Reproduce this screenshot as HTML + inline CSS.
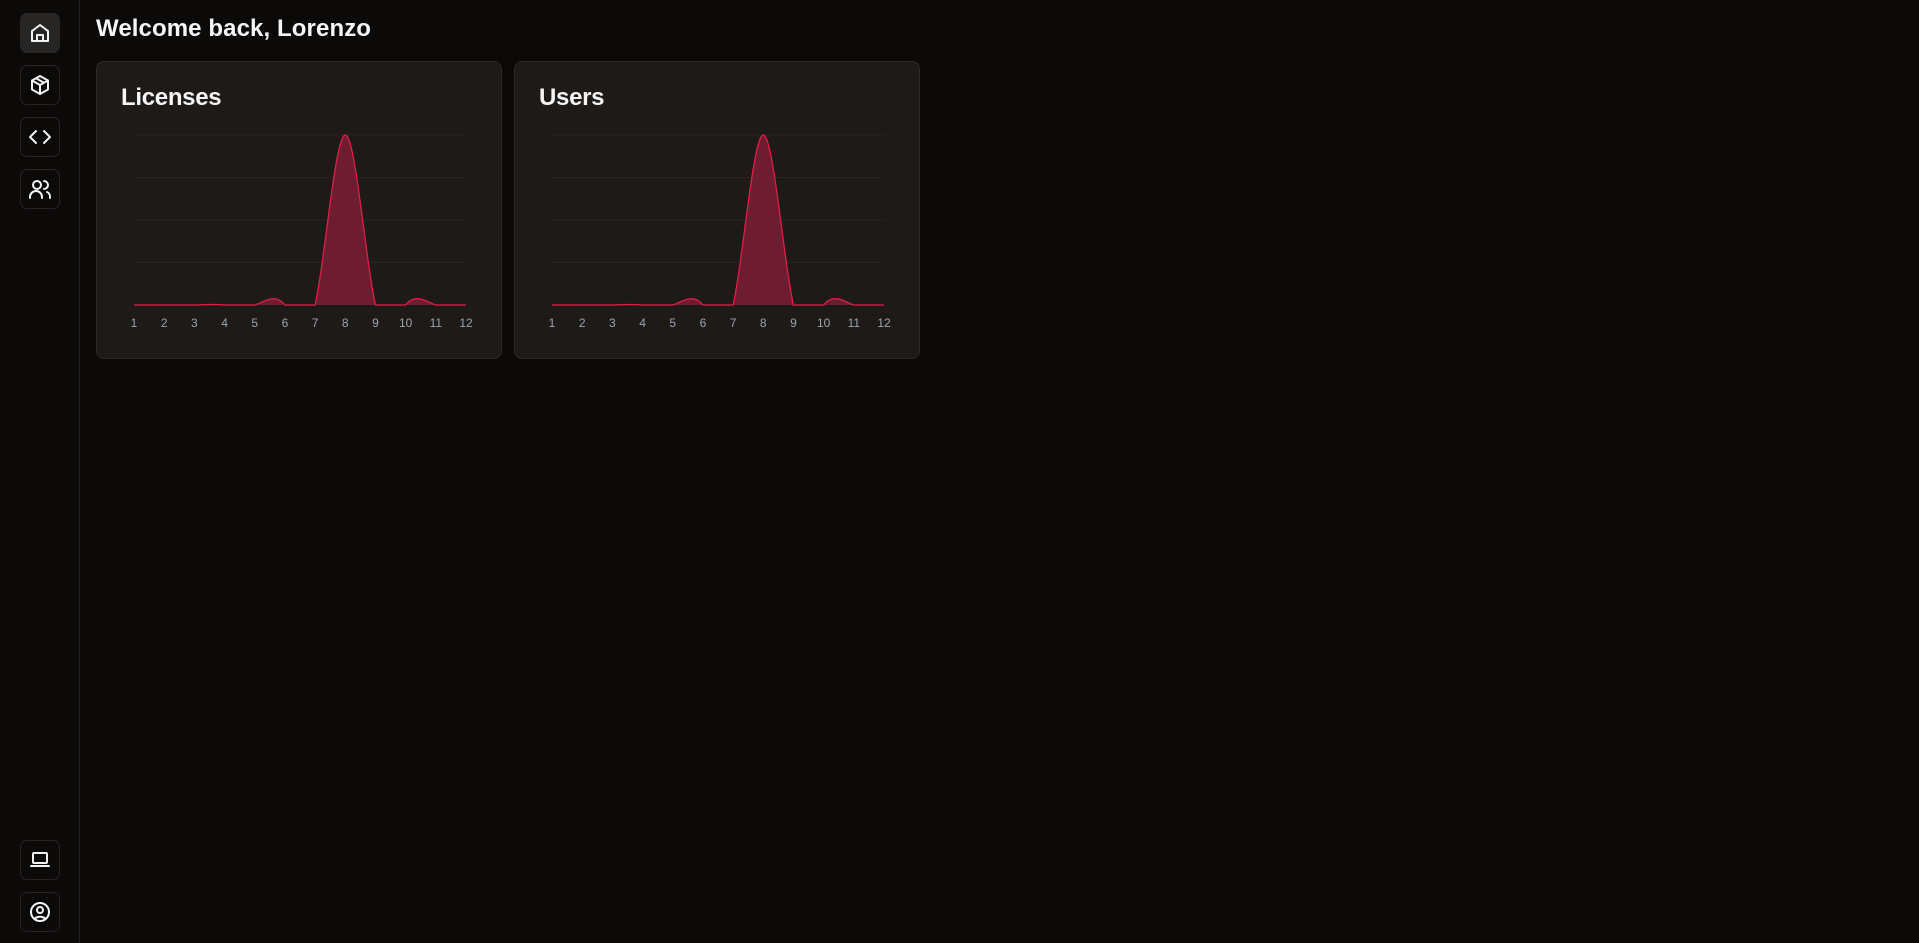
<!DOCTYPE html>
<html><head><meta charset="utf-8"><style>
html,body{margin:0;padding:0;background:#0b0a09;width:1919px;height:943px;overflow:hidden;font-family:"Liberation Sans",sans-serif;}
.sidebar{position:absolute;left:0;top:0;width:79px;height:943px;border-right:1px solid #222;}
.btn{position:absolute;left:20px;width:38px;height:38px;border:1px solid #262423;border-radius:7px;display:flex;align-items:center;justify-content:center;}
.btn.active{background:#272625;border-color:#272625;}
.btn svg{width:24px;height:24px;fill:none;stroke:#f2f2f2;stroke-width:2;stroke-linecap:round;stroke-linejoin:round;}
h1{position:absolute;left:96px;top:15px;margin:0;font-size:24px;font-weight:700;color:#f5f5f5;letter-spacing:0.1px;}
.card{position:absolute;top:61px;width:404px;height:296px;background:#1d1a18;border:1px solid #2c2927;border-radius:8px;}
.card h2{position:absolute;left:24px;top:22px;margin:0;font-size:24px;font-weight:700;color:#f5f5f5;letter-spacing:-0.3px;}
.card svg{position:absolute;left:0;top:0;}
</style></head><body>
<div class="sidebar">
 <div class="btn active" style="top:13px"><svg viewBox="0 0 24 24"><path d="M4 10l8-6 8 6v10H4z"/><path d="M9 20v-6h6v6"/></svg></div>
 <div class="btn" style="top:65px"><svg viewBox="0 0 24 24"><path d="M12 3l8 4.5v9L12 21l-8-4.5v-9z"/><path d="M4 7.5l8 4.5 8-4.5M12 12v9M8 5.3l8 4.5"/></svg></div>
 <div class="btn" style="top:117px"><svg viewBox="0 0 24 24"><path d="M8 6l-6 6 6 6M16 6l6 6-6 6"/></svg></div>
 <div class="btn" style="top:169px"><svg viewBox="0 0 24 24"><circle cx="9" cy="8" r="4"/><path d="M2 21v-1a6 6 0 0 1 12 0v1M16 4a4 4 0 0 1 0 8M19 15a5 5 0 0 1 3 5v1"/></svg></div>
 <div class="btn" style="top:840px"><svg viewBox="0 0 24 24"><rect x="5" y="5" width="14" height="10" rx="1"/><path d="M3 18h18"/></svg></div>
 <div class="btn" style="top:892px"><svg viewBox="0 0 24 24"><circle cx="12" cy="12" r="9"/><circle cx="12" cy="10" r="3"/><path d="M7 18.5a6 4 0 0 1 10 0"/></svg></div>
</div>
<h1>Welcome back, Lorenzo</h1>
<div class="card" style="left:96px"><h2>Licenses</h2><svg id="c1" width="404" height="296"></svg></div>
<div class="card" style="left:514px"><h2>Users</h2><svg id="c2" width="404" height="296"></svg></div>
<script>
const months = ["1","2","3","4","5","6","7","8","9","10","11","12"];
const licenses = [0,0,0,0,0,0,0,4,0,0,0,0];
const users = [0,0,0,0,0,0,0,4,0,0,0,0];
const yTicks = [0,1,2,3,4];
const NS="http://www.w3.org/2000/svg";
function spline(v){const n=v.length,M=new Array(n).fill(0);const a=[],b=[],c=[],d=[];
 for(let i=1;i<n-1;i++){a.push(1);b.push(4);c.push(1);d.push(6*(v[i+1]-2*v[i]+v[i-1]));}
 const m=d.length;for(let i=1;i<m;i++){const w=a[i]/b[i-1];b[i]-=w*c[i-1];d[i]-=w*d[i-1];}
 const x=new Array(m);x[m-1]=d[m-1]/b[m-1];for(let i=m-2;i>=0;i--)x[i]=(d[i]-c[i]*x[i+1])/b[i];
 for(let i=0;i<m;i++)M[i+1]=x[i];
 return t=>{let i=Math.min(Math.floor(t),n-2);const u=t-i,s=1-u;
  return s*v[i]+u*v[i+1]+((s*s*s-s)*M[i]+(u*u*u-u)*M[i+1])/6;};}
function draw(id,vals){
 const svg=document.getElementById(id);
 const x0=37,x1=369,yb=243,yt=73,maxY=yTicks[yTicks.length-1];
 const X=i=>x0+(x1-x0)*i/(months.length-1);
 const Y=v=>yb-(yb-yt)*v/maxY;
 yTicks.slice(1).forEach(t=>{const l=document.createElementNS(NS,"line");
  
  
  l.setAttribute("x1",x0);l.setAttribute("x2",x1);l.setAttribute("y1",Y(t));l.setAttribute("y2",Y(t));
  l.setAttribute("stroke","#272422");l.setAttribute("stroke-width","1");svg.appendChild(l);});
 const f=spline(vals);let pts=[];const N=(vals.length-1)*40;
 for(let k=0;k<=N;k++){const t=k/40;pts.push([X(t),Y(Math.max(0,f(t)))]);}
 const line="M"+pts.map(p=>p[0].toFixed(2)+","+p[1].toFixed(2)).join("L");
 const area=document.createElementNS(NS,"path");
 
 
 area.setAttribute("d",line+"L"+X(vals.length-1)+","+yb+"L"+X(0)+","+yb+"Z");
 area.setAttribute("fill","#6d1d2f");svg.appendChild(area);
 const p=document.createElementNS(NS,"path");
 
 
 p.setAttribute("d",line);p.setAttribute("fill","none");p.setAttribute("stroke","#e11d48");p.setAttribute("stroke-width","1.3");svg.appendChild(p);
 months.forEach((m,i)=>{const t=document.createElementNS(NS,"text");
  
  
  t.setAttribute("x",X(i));t.setAttribute("y",yb+22);t.setAttribute("text-anchor","middle");
  t.setAttribute("fill","#9ca3af");t.setAttribute("font-size","12");t.setAttribute("font-family","Liberation Sans, sans-serif");
  t.textContent=m;svg.appendChild(t);});
}
draw("c1",licenses);draw("c2",users);
</script>
</body></html>
